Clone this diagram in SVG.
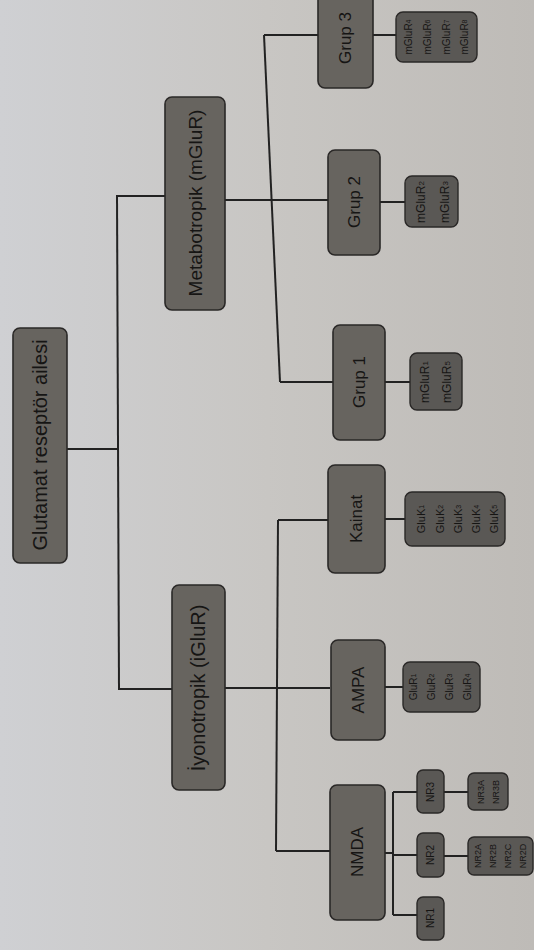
<svg xmlns="http://www.w3.org/2000/svg" width="534" height="950" viewBox="0 0 534 950">
<defs>
<linearGradient id="paper" x1="0" y1="0" x2="1" y2="0">
<stop offset="0" stop-color="#cfd0d3"/>
<stop offset="0.5" stop-color="#c8c6c3"/>
<stop offset="1" stop-color="#bebbb7"/>
</linearGradient>
</defs>
<style>
.n{fill:#67645f;stroke:#2a2827;stroke-width:1.6}
.c{fill:#5a5855;stroke:#2a2827;stroke-width:1.4}
.t{font-family:"Liberation Sans",Arial,sans-serif;fill:#161514;text-anchor:middle;dominant-baseline:central}
.big{font-size:19px}
.mid{font-size:17px}
.sm{font-size:10px}
.l{fill:none;stroke:#222;stroke-width:2}
</style>
<rect width="534" height="950" fill="url(#paper)"/>
<g id="connectors" class="l">
<path d="M67,449 H118"/>
<path d="M117,195 L119,690"/>
<path d="M117,196 H165"/>
<path d="M119,689 H172"/>
<path d="M225,200 H328"/>
<path d="M264,35 L280,382"/>
<path d="M264,35 H318"/>
<path d="M373,35 H396"/>
<path d="M280,382 H333"/>
<path d="M385,382 H410"/>
<path d="M380,202 H405"/>
<path d="M225,688 H330"/>
<path d="M278,520 L276,851"/>
<path d="M278,520 H328"/>
<path d="M385,519 H405"/>
<path d="M385,687 H403"/>
<path d="M276,851 H330"/>
<path d="M385,853 H393"/>
<path d="M393,792 V915"/>
<path d="M393,792 H417"/>
<path d="M393,855 H417"/>
<path d="M393,915 H417"/>
<path d="M444,792 H468"/>
<path d="M444,856 H468"/>
</g>
<g id="root">
<rect class="n" x="13" y="328" width="54" height="235" rx="7"/>
<text class="t big" transform="translate(40,445) rotate(-90)" style="font-size:20px">Glutamat reseptör ailesi</text>
</g>
<g id="metabotropik">
<rect class="n" x="165" y="97" width="60" height="213" rx="7"/>
<text class="t big" transform="translate(195,203) rotate(-90)">Metabotropik (mGluR)</text>
</g>
<g id="iyonotropik">
<rect class="n" x="172" y="585" width="53" height="205" rx="7"/>
<text class="t big" transform="translate(198,688) rotate(-90)" style="font-size:20px">İyonotropik (iGluR)</text>
</g>
<g id="grup3">
<rect class="n" x="318" y="-20" width="55" height="108" rx="7"/>
<text class="t mid" transform="translate(345,38) rotate(-90)">Grup 3</text>
</g>
<g id="grup2">
<rect class="n" x="328" y="150" width="52" height="105" rx="7"/>
<text class="t mid" transform="translate(354,202) rotate(-90)">Grup 2</text>
</g>
<g id="grup1">
<rect class="n" x="333" y="325" width="52" height="115" rx="7"/>
<text class="t mid" transform="translate(359,382) rotate(-90)">Grup 1</text>
</g>
<g id="kainat">
<rect class="n" x="328" y="465" width="57" height="108" rx="7"/>
<text class="t mid" transform="translate(356,519) rotate(-90)">Kainat</text>
</g>
<g id="ampa">
<rect class="n" x="331" y="640" width="54" height="100" rx="7"/>
<text class="t mid" transform="translate(358,690) rotate(-90)">AMPA</text>
</g>
<g id="nmda">
<rect class="n" x="330" y="785" width="55" height="135" rx="7"/>
<text class="t mid" transform="translate(357,852) rotate(-90)">NMDA</text>
</g>
<g id="grup3-sub">
<rect class="c" x="396" y="12" width="81" height="50" rx="7"/>
<text class="t sm" transform="translate(436,37) rotate(-90)"><tspan x="0" y="-28">mGluR<tspan font-size="7">4</tspan></tspan><tspan x="0" y="-9">mGluR<tspan font-size="7">6</tspan></tspan><tspan x="0" y="10">mGluR<tspan font-size="7">7</tspan></tspan><tspan x="0" y="28">mGluR<tspan font-size="7">8</tspan></tspan></text>
</g>
<g id="grup2-sub">
<rect class="c" x="405" y="176" width="53" height="51" rx="7"/>
<text class="t" style="font-size:12px" transform="translate(432,202) rotate(-90)"><tspan x="0" y="-11">mGluR<tspan font-size="8">2</tspan></tspan><tspan x="0" y="13">mGluR<tspan font-size="8">3</tspan></tspan></text>
</g>
<g id="grup1-sub">
<rect class="c" x="410" y="353" width="52" height="57" rx="7"/>
<text class="t" style="font-size:12px" transform="translate(436,382) rotate(-90)"><tspan x="0" y="-11">mGluR<tspan font-size="8">1</tspan></tspan><tspan x="0" y="11">mGluR<tspan font-size="8">5</tspan></tspan></text>
</g>
<g id="kainat-sub">
<rect class="c" x="405" y="492" width="100" height="54" rx="7"/>
<text class="t" style="font-size:11px" transform="translate(456,519) rotate(-90)"><tspan x="0" y="-35">GluK<tspan font-size="7">1</tspan></tspan><tspan x="0" y="-16">GluK<tspan font-size="7">2</tspan></tspan><tspan x="0" y="2">GluK<tspan font-size="7">3</tspan></tspan><tspan x="0" y="20">GluK<tspan font-size="7">4</tspan></tspan><tspan x="0" y="38">GluK<tspan font-size="7">5</tspan></tspan></text>
</g>
<g id="ampa-sub">
<rect class="c" x="403" y="662" width="77" height="50" rx="7"/>
<text class="t" style="font-size:10px" transform="translate(441,687) rotate(-90)"><tspan x="0" y="-28">GluR<tspan font-size="7">1</tspan></tspan><tspan x="0" y="-10">GluR<tspan font-size="7">2</tspan></tspan><tspan x="0" y="8">GluR<tspan font-size="7">3</tspan></tspan><tspan x="0" y="26">GluR<tspan font-size="7">4</tspan></tspan></text>
</g>
<g id="nr3">
<rect class="c" x="417" y="770" width="27" height="43" rx="6"/>
<text class="t sm" transform="translate(430,792) rotate(-90)">NR3</text>
</g>
<g id="nr2">
<rect class="c" x="417" y="833" width="27" height="44" rx="6"/>
<text class="t sm" transform="translate(430,855) rotate(-90)">NR2</text>
</g>
<g id="nr1">
<rect class="c" x="417" y="897" width="27" height="43" rx="6"/>
<text class="t sm" transform="translate(430,918) rotate(-90)">NR1</text>
</g>
<g id="nr3-sub">
<rect class="c" x="468" y="773" width="40" height="37" rx="6"/>
<text class="t" style="font-size:9px" transform="translate(488,792) rotate(-90)"><tspan x="0" y="-7">NR3A</tspan><tspan x="0" y="8">NR3B</tspan></text>
</g>
<g id="nr2-sub">
<rect class="c" x="468" y="837" width="65" height="38" rx="6"/>
<text class="t" style="font-size:9px" transform="translate(500,856) rotate(-90)"><tspan x="0" y="-22">NR2A</tspan><tspan x="0" y="-7">NR2B</tspan><tspan x="0" y="8">NR2C</tspan><tspan x="0" y="23">NR2D</tspan></text>
</g>
</svg>
